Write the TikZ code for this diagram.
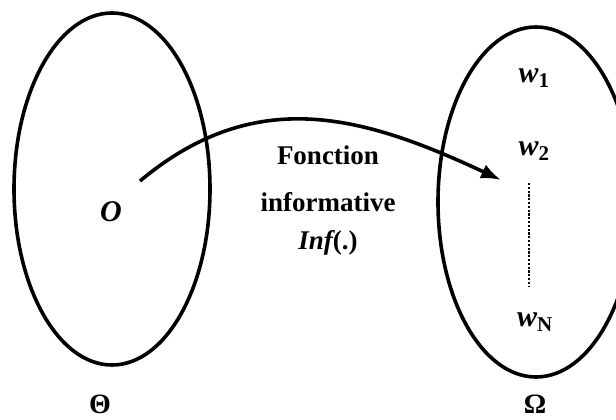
\documentclass[tikz,border=0pt]{standalone}
\usepackage{fontspec}
\setmainfont{Liberation Serif}
\usetikzlibrary{shapes.geometric,arrows.meta}
\begin{document}
\begin{tikzpicture}
        [x=1pt,y=-1pt,line width=3.6pt,
         set/.style={ellipse,draw,inner sep=0pt},
         lbl/.style={font=\fontsize{27}{32}\selectfont\bfseries,inner sep=0pt},
         elt/.style={font=\fontsize{30}{34}\selectfont\bfseries,inner sep=0pt}]
        \useasboundingbox (0,0) rectangle (616,420);
        %sets
        \node[set,minimum width=196pt,minimum height=352pt] (Theta) at (112,189) {};
        \node[set,minimum width=196pt,minimum height=350pt] (Omega) at (536,202) {};
        \node[elt,font=\fontsize{28}{32}\selectfont\bfseries] (ThetaLbl) at (100,404) {Θ};
        \node[elt,font=\fontsize{28}{32}\selectfont\bfseries] (OmegaLbl) at (535,404) {Ω};
        %elements
        \node[elt] (O) at (111,212) {\itshape O};
        \node[elt] (W1) at (534,78) {\itshape w\textsubscript{\upshape 1}};
        \node[elt] (W2) at (534,151) {\itshape w\textsubscript{\upshape 2}};
        \node[elt] (WN) at (535,322) {\itshape w\textsubscript{\upshape N}};
        \coordinate (Dtop) at (529,183);
        \coordinate (Dbot) at (529,287);
        \draw[line width=2.6pt,dash pattern=on 2.2pt off 1.6pt] (Dtop) -- (Dbot);
        %mapping
        \node[lbl] (Fct) at (328,155) {Fonction};
        \node[lbl] (Info) at (328,202) {informative};
        \node[lbl] (Inf) at (328,243) {\itshape Inf\upshape(.)};
        \coordinate (Start) at (140,181);
        \coordinate (End) at (501,180);
        \draw[-{Latex[length=20pt,width=15pt]}] (Start) .. controls (256,84) and (364,116) .. (End);
\end{tikzpicture}
\end{document}
